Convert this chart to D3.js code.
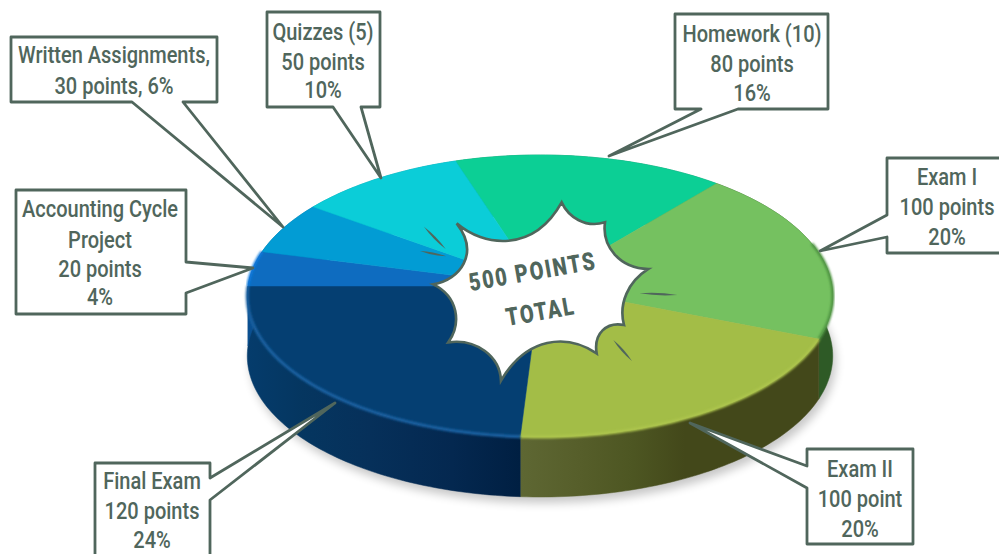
<!DOCTYPE html>
<html>
<head>
<meta charset="utf-8">
<script src="https://cdn.jsdelivr.net/npm/d3@7"></script>
<style>
html,body{margin:0;padding:0;background:#fff;}
svg{display:block;}
text{font-family:Roboto,"Liberation Sans",sans-serif;fill:#50665c;}
</style>
</head>
<body>
<svg id="chart" width="999" height="554"></svg>
<script>
const categories=["Homework","Exam I","Exam II","Final Exam","Accounting Cycle Project","Written Assignments","Quizzes"];
const points=[80,100,100,120,20,30,50];
const topColors=["#0ccf95","#75c160","#a3bd47","#053f72","#0e6cc0","#029cd4","#0bcdd8"];
const rimColors=[null,"#4f9443","#aec64e","#1c62a3","#1079dc",null,null];
const sideStops=[
  [["#0a8a63",0],["#0a8a63",1]],
  [["#2e5a26",0],["#2e5a26",1]],
  [["#43481a",0],["#43481a",.45],["#4d5622",.62],["#565e2a",.8],["#5e6733",1]],
  [["#001f42",0],["#042850",.25],["#06305a",.55],["#053660",.8],["#053c6c",1]],
  [["#0a4f90",0],["#0a4f90",1]],
  [["#02709a",0],["#02709a",1]],
  [["#089aa2",0],["#089aa2",1]]
];
const labelLines=[
  ["Homework (10)","80 points","16%"],
  ["Exam I","100 points","20%"],
  ["Exam II","100 point","20%"],
  ["Final Exam","120 points","24%"],
  ["Accounting Cycle","Project","20 points","4%"],
  ["Written Assignments,","30 points, 6%"],
  ["Quizzes (5)","50 points","10%"]
];
// box: x0,y0,x1,y1 then wedge base a, base b, tip
const callouts=[
  {box:[675,14,828,109],side:"bottom",a:[738,109],b:[701,109],tip:[609,156],cx:752,base:[42,72,101]},
  {box:[887,158,1003,253],side:"left",a:[887,215],b:[887,237],tip:[820,251],cx:947,base:[185,215,245]},
  {box:[807,449,913,544],side:"left",a:[807,466],b:[807,488],tip:[690,423],cx:860,base:[477,507,537]},
  {box:[95,463,210,560],side:"right",a:[210,478],b:[210,500],tip:[335,403],cx:152,base:[489,519,548]},
  {box:[16,190,186,314],side:"right",a:[186,262],b:[186,293],tip:[253,268],cx:100,base:[217,248,277,305]},
  {box:[11,37,217,102],side:"bottom",a:[183,102],b:[132,102],tip:[283,227],cx:114,base:[63,94]},
  {box:[267,12,380,107],side:"bottom",a:[361,107],b:[333,107],tip:[381,178],cx:323,base:[40,70,98]}
];

const svg=d3.select("#chart");
const defs=svg.append("defs");
defs.append("filter").attr("id","blurBig").attr("x","-10%").attr("y","-10%").attr("width","120%").attr("height","120%")
  .append("feGaussianBlur").attr("stdDeviation",5);
defs.append("filter").attr("id","blurRim").attr("x","-10%").attr("y","-10%").attr("width","120%").attr("height","120%")
  .append("feGaussianBlur").attr("stdDeviation",1);

// pie tilted in perspective, so the near half reads bigger than the far half
const cx=540,cy=286,A=292,B=140.3,k=0.0709,depth=60;
const x=d3.scaleLinear().domain([-1,1]).range([cx-A,cx+A]);
const y=d3.scaleLinear().domain([-1,1]).range([cy-B,cy+B]);
const project=(t,dy=0)=>{
  const u=Math.sin(t),v=-Math.cos(t),w=1-k*v;
  return [x(u/w),y(v/w)+dy];
};
const line=d3.line();
const arcPts=(a0,a1,dy=0)=>{
  const n=Math.max(2,Math.ceil((a1-a0)/0.02));
  return d3.range(n+1).map(i=>project(a0+(a1-a0)*i/n,dy));
};

const start=-18*Math.PI/180;
const pie=d3.pie().sort(null).startAngle(start).endAngle(start+2*Math.PI);
const slices=pie(points);

// shadow under the disc
svg.append("path")
  .attr("d",line(arcPts(0,2*Math.PI,depth+3))+"Z")
  .attr("fill","#000").attr("opacity",.22)
  .attr("transform","translate(3,3)")
  .attr("filter","url(#blurBig)");

// side wall
slices.forEach((s,i)=>{
  const id="side"+i;
  const pts=arcPts(s.startAngle,s.endAngle);
  const ext=d3.extent(pts,d=>d[0]);
  const g=defs.append("linearGradient").attr("id",id).attr("gradientUnits","userSpaceOnUse")
    .attr("x1",ext[1]).attr("x2",ext[0]).attr("y1",0).attr("y2",0);
  sideStops[i].forEach(d=>g.append("stop").attr("offset",d[1]).attr("stop-color",d[0]));
  const low=arcPts(s.startAngle,s.endAngle,depth).reverse();
  svg.append("path").attr("d",line(pts.concat(low))+"Z").attr("fill",`url(#${id})`)
    .attr("stroke",`url(#${id})`).attr("stroke-width",.5);
});

// top face
svg.selectAll("path.top").data(slices).join("path").attr("class","top")
  .attr("d",d=>line([[cx,cy]].concat(arcPts(d.startAngle,d.endAngle)))+"Z")
  .attr("fill",(d,i)=>topColors[i])
  .attr("stroke",(d,i)=>topColors[i]).attr("stroke-width",.5);

// soft bevel along the front edge, only where the wall shows below it
const rimFrom=72*Math.PI/180;
slices.forEach((s,i)=>{
  if(!rimColors[i])return;
  svg.append("path")
    .attr("d",line(arcPts(Math.max(s.startAngle,rimFrom),s.endAngle)))
    .attr("fill","none").attr("stroke",rimColors[i]).attr("stroke-width",3)
    .attr("filter","url(#blurRim)");
});

// callouts
const stroke="#50665c";
callouts.forEach((c,i)=>{
  const [x0,y0,x1,y1]=c.box;
  let pts;
  if(c.side==="bottom")pts=[[x0,y0],[x1,y0],[x1,y1],c.a,c.tip,c.b,[x0,y1]];
  if(c.side==="left")pts=[[x0,y0],[x1,y0],[x1,y1],[x0,y1],c.b,c.tip,c.a];
  if(c.side==="right")pts=[[x0,y0],[x1,y0],c.a,c.tip,c.b,[x1,y1],[x0,y1]];
  svg.append("path").attr("d",line(pts)+"Z")
    .attr("fill","#fff").attr("stroke",stroke).attr("stroke-width",2.8).attr("stroke-linejoin","round");
  labelLines[i].forEach((t,j)=>{
    svg.append("text").attr("transform",`translate(${c.cx},${c.base[j]}) scale(0.87,1)`)
      .attr("text-anchor","middle").attr("font-size",23).attr("font-weight",500).text(t);
  });
});

// starburst, traced in zoomed units
const burst=d3.path();
burst.moveTo(425,37);
burst.bezierCurveTo(445,80,495,115,555,97);
burst.bezierCurveTo(545,170,600,235,685,237);
burst.bezierCurveTo(625,275,595,340,612,405);
burst.bezierCurveTo(560,395,520,430,530,490);
burst.bezierCurveTo(440,430,320,440,243,572);
burst.bezierCurveTo(240,500,170,445,85,457);
burst.bezierCurveTo(125,400,115,320,40,283);
burst.bezierCurveTo(120,270,180,190,110,100);
burst.bezierCurveTo(190,170,340,190,425,37);
burst.closePath();
const gb=svg.append("g").attr("transform","translate(420,190) scale(0.3333)");
gb.append("path").attr("d",burst.toString()).attr("fill","#fff").attr("stroke",stroke).attr("stroke-width",8);
// little tapered accent strokes around the burst
[[[12,110],[77,177]],[[0,183],[78,199]],[[658,310],[772,315]],[[580,450],[636,513]]].forEach(([p,q])=>{
  const mx=(p[0]+q[0])/2,my=(p[1]+q[1])/2,dx=q[0]-p[0],dy=q[1]-p[1],len=Math.hypot(dx,dy);
  const nx=-dy/len*7,ny=dx/len*7;
  gb.append("path").attr("d",`M${p}Q${mx+nx},${my+ny} ${q}Q${mx-nx},${my-ny} ${p}Z`).attr("fill",stroke);
});

const burstText=[["500 POINTS",534,280],["TOTAL",542,320]];
burstText.forEach(d=>{
  svg.append("text").attr("transform",`translate(${d[1]},${d[2]}) rotate(-10) scale(0.8,1)`)
    .attr("text-anchor","middle").attr("font-size",25).attr("font-weight",900)
    .attr("letter-spacing",2.2).text(d[0]);
});
</script>
</body>
</html>
